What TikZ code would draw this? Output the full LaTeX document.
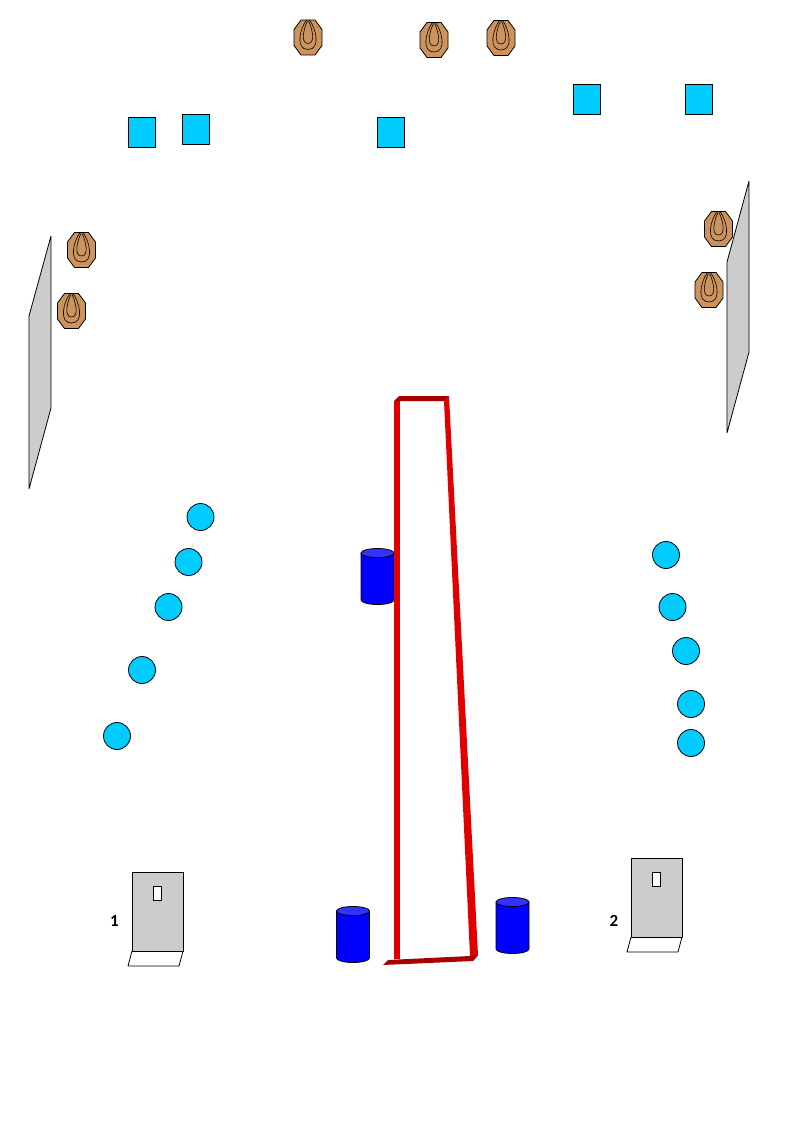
\documentclass[tikz,border=0pt]{standalone}
\usepackage{fontspec}
\newfontfamily\labelfont{Carlito}
\usetikzlibrary{calc}
\definecolor{TargetClr}{RGB}{204,148,92}
\definecolor{NoShootClr}{RGB}{0,204,255}
\definecolor{WallClr}{RGB}{204,204,204}
\definecolor{BarrelClr}{RGB}{0,0,255}
\definecolor{BarrelTopClr}{RGB}{51,51,255}
\definecolor{FaultClr}{RGB}{224,0,0}
\definecolor{FaultDarkClr}{RGB}{168,0,0}
\tikzset{
  edge/.style={draw=black,line width=0.8pt,line join=bevel},
  popper/.style={edge,circle,fill=NoShootClr,minimum size=27pt,inner sep=0pt},
  plate/.style={edge,rectangle,fill=NoShootClr,minimum width=27pt,minimum height=30pt,inner sep=0pt},
  boxlabel/.style={font=\labelfont\bfseries\fontsize{17}{17}\selectfont,inner sep=0pt},
  target/.pic={
    \draw[edge,fill=TargetClr] (-7,-17.5) -- (7,-17.5) -- (14,-8) -- (14,8) -- (7,17.5) -- (-7,17.5) -- (-14,8) -- (-14,-8) -- cycle;
    \draw[edge,line width=0.6pt] (-1.5,-17.5) .. controls (-8,-9) and (-13,12) .. (0,12) .. controls (13,12) and (8,-9) .. (1.5,-17.5);
    \draw[edge,line width=0.6pt] (-0.5,-16.5) .. controls (-4,-10) and (-8,6) .. (0,6) .. controls (8,6) and (4,-10) .. (0.5,-16.5);
  },
  door/.pic={
    \draw[edge,fill=white] (0,79) -- (-4,94) -- (47,94) -- (51,79) -- cycle;
    \draw[edge,fill=WallClr] (0,0) rectangle (51,79);
    \draw[edge,fill=white] (21,14) rectangle (29,28);
  },
  barrel/.pic={
    \draw[edge,fill=BarrelClr] (0,5) -- (0,52) arc[x radius=16.5,y radius=4.5,start angle=180,end angle=0] -- (33,5) -- cycle;
    \draw[edge,fill=BarrelTopClr] (16.5,5) ellipse[x radius=16.5,y radius=4.5];
  }
}

\begin{document}
\begin{tikzpicture}[x=1pt,y=-1pt]
\useasboundingbox (0,0) rectangle (793,1123);

\foreach \px/\py in {308/37.5,434/40,501/38,81.5/250,71.5/311,718.5/229,709/290}
  \pic at (\px,\py) {target};

\foreach \px/\py [count=\i] in {141.5/132.5,195.5/129.5,391/132.5,587/99,699/99}
  \node[plate] (plate\i) at (\px,\py) {};

\foreach \px/\py [count=\i] in {200.5/517,188.5/562,168.5/607,142/670,117/736,666/555,672.5/607,686/651,691/704,691/743}
  \node[popper] (popper\i) at (\px,\py) {};

\draw[edge,fill=WallClr] (29,316) -- (51,236) -- (51,408) -- (29,489) -- cycle;
\draw[edge,fill=WallClr] (727,262) -- (749,181) -- (749,352) -- (727,433) -- cycle;

\pic at (132,872) {door};
\pic at (631,858) {door};
\node[boxlabel] (box1) at (114.5,921) {1};
\node[boxlabel] (box2) at (614,921) {2};

\pic at (336.5,906) {barrel};
\pic at (496,897) {barrel};
\pic at (361,548) {barrel};

\coordinate (F1) at (394,401);
\coordinate (F2) at (399,396);
\coordinate (F3) at (449,396);
\coordinate (F4) at (444,401);
\coordinate (F5) at (400,401);
\coordinate (F6) at (400,959);
\coordinate (F7) at (394,959);
\coordinate (F8) at (383,965);
\coordinate (F9) at (388,960);
\coordinate (F10) at (470,956);
\coordinate (F11) at (478,955);
\coordinate (F12) at (473,961);

\fill[FaultClr] (F1) -- (F5) -- (F6) -- (F7) -- cycle;
\fill[FaultClr] (F4) -- (F3) -- (F11) -- (F12) -- (F10) -- cycle;
\fill[FaultDarkClr] (F1) -- (F2) -- (F3) -- (F4) -- cycle;
\fill[FaultDarkClr] (F8) -- (F9) -- (F10) -- (F11) -- (F12) -- cycle;

\end{tikzpicture}
\end{document}
